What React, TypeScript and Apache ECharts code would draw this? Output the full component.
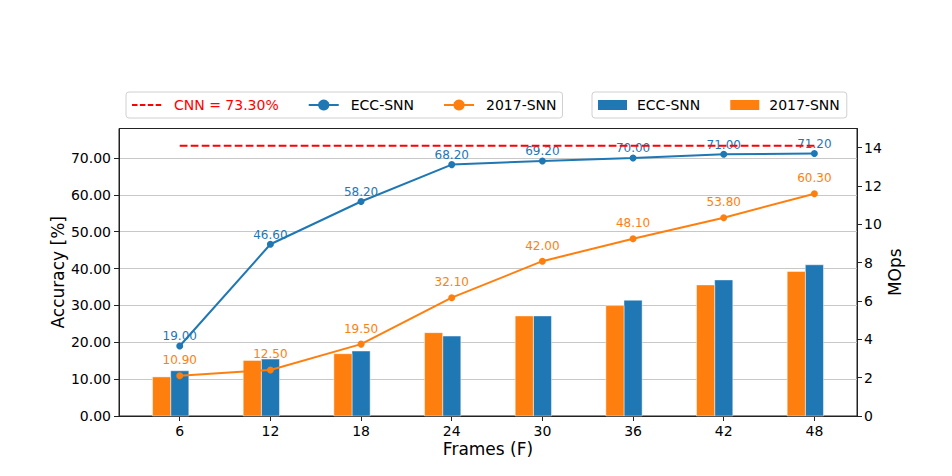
import React, { useEffect, useRef } from 'react';
import * as echarts from 'echarts';

const frames = [6, 12, 18, 24, 30, 36, 42, 48];
const eccAcc = [19.0, 46.6, 58.2, 68.2, 69.2, 70.0, 71.0, 71.2];
const snn2017Acc = [10.9, 12.5, 19.5, 32.1, 42.0, 48.1, 53.8, 60.3];
const eccMops = [2.36, 2.97, 3.39, 4.17, 5.22, 6.04, 7.1, 7.89];
const snn2017Mops = [2.04, 2.9, 3.25, 4.35, 5.22, 5.76, 6.84, 7.54];
const cnnAcc = 73.3;
const accTicks = [0, 10, 20, 30, 40, 50, 60, 70];
const mopsTicks = [0, 2, 4, 6, 8, 10, 12, 14];

const BLUE = '#1f77b4';
const ORANGE = '#ff7f0e';
const FONT = 'DejaVu Sans';
const BAR_W = 1.2;

export default function App() {
  const ref = useRef<HTMLDivElement>(null);
  useEffect(() => {
    document.body.style.margin = '0';
    const chart = echarts.init(ref.current!, null, { renderer: 'svg' });
    const xMinData = frames[0] - 1.5 * BAR_W;
    const xMaxData = frames[frames.length - 1] + 0.5 * BAR_W;
    const pad = 0.05 * (xMaxData - xMinData);
    const cnnName = `CNN = ${cnnAcc.toFixed(2)}%`;

    const barSeries = (name: string, vals: number[], color: string, off0: number, off1: number) => ({
      type: 'custom',
      name,
      xAxisIndex: 0,
      yAxisIndex: 1,
      z: 1,
      itemStyle: { color },
      encode: { x: 0, y: 1 },
      data: frames.map((f, i) => [f, vals[i]]),
      renderItem: (params: any, api: any) => {
        const x = api.value(0);
        const y = api.value(1);
        const p0 = api.coord([x + off0, y]);
        const p1 = api.coord([x + off1, 0]);
        return {
          type: 'rect',
          shape: { x: p0[0], y: p0[1], width: p1[0] - p0[0], height: p1[1] - p0[1] },
          style: { fill: color, stroke: 'rgba(255,255,255,0.45)', lineWidth: 1 },
        };
      },
    });

    const lineSeries = (name: string, vals: number[], color: string, dist: number) => ({
      type: 'line',
      name,
      xAxisIndex: 0,
      yAxisIndex: 0,
      z: 3,
      data: frames.map((f, i) => [f, vals[i]]),
      symbol: 'circle',
      symbolSize: 7,
      itemStyle: { color },
      lineStyle: { color, width: 2 },
      label: {
        show: true,
        position: 'top',
        distance: dist,
        color,
        fontFamily: FONT,
        fontSize: 12,
        formatter: (p: any) => p.value[1].toFixed(2),
      },
    });

    chart.setOption({
      animation: false,
      textStyle: { fontFamily: FONT },
      grid: { left: 119, right: 95, top: 128.5, bottom: 60, show: true, borderColor: '#222', borderWidth: 1, backgroundColor: 'transparent' },
      legend: [
        {
          left: 126,
          top: 92,
          orient: 'horizontal',
          padding: [6, 6, 6, 5],
          itemGap: 29,
          itemWidth: 30,
          itemHeight: 14,
          borderColor: '#d0d0d0',
          borderWidth: 1,
          borderRadius: 3,
          selectedMode: false,
          textStyle: { fontFamily: FONT, fontSize: 14, color: '#000', padding: [0, 0, 0, 7], lineHeight: 14 },
          data: [
            {
              name: cnnName,
              textStyle: { color: '#ff0000' },
              itemStyle: { opacity: 0 },
              lineStyle: { type: [5.5, 2.4], width: 2, color: '#ff0000' },
            },
            'ECC-SNN',
            '2017-SNN',
          ],
        },
        {
          left: 592,
          top: 92,
          orient: 'horizontal',
          padding: [6, 7, 6, 6],
          itemGap: 30,
          itemWidth: 29,
          itemHeight: 10,
          icon: 'rect',
          borderColor: '#d0d0d0',
          borderWidth: 1,
          borderRadius: 3,
          selectedMode: false,
          textStyle: { fontFamily: FONT, fontSize: 14, color: '#000', padding: [0, 0, 0, 5], lineHeight: 14 },
          formatter: (name: string) => name.replace(' MOps', ''),
          data: ['ECC-SNN MOps', '2017-SNN MOps'],
        },
      ],
      xAxis: {
        type: 'value',
        min: xMinData - pad,
        max: xMaxData + pad,
        name: 'Frames (F)',
        nameLocation: 'middle',
        nameGap: 24,
        nameMoveOverlap: false,
        nameTextStyle: { fontFamily: FONT, fontSize: 17, color: '#000' },
        axisLine: { show: true, lineStyle: { color: '#222', width: 1 } },
        axisTick: { show: true, length: 5, lineStyle: { color: '#222', width: 1 }, customValues: frames },
        axisLabel: { customValues: frames, fontFamily: FONT, fontSize: 14, color: '#000', margin: 8 },
        splitLine: { show: false },
      },
      yAxis: [
        {
          type: 'value',
          min: 0,
          max: 78,
          position: 'left',
          name: 'Accuracy [%]',
          nameLocation: 'middle',
          nameGap: 53,
          nameMoveOverlap: false,
          nameTextStyle: { fontFamily: FONT, fontSize: 17, color: '#000' },
          axisLine: { show: true, lineStyle: { color: '#222', width: 1 } },
          axisTick: { show: true, length: 5, lineStyle: { color: '#222', width: 1 }, customValues: accTicks },
          axisLabel: {
            customValues: accTicks,
            fontFamily: FONT,
            fontSize: 14,
            color: '#000',
            margin: 8,
            formatter: (v: number) => v.toFixed(2),
          },
          splitLine: { show: true, lineStyle: { color: '#c8c8c8', width: 1.2 } },
        },
        {
          type: 'value',
          min: 0,
          max: 15,
          position: 'right',
          name: 'MOps',
          nameLocation: 'middle',
          nameGap: 29,
          nameMoveOverlap: false,
          nameTextStyle: { fontFamily: FONT, fontSize: 17, color: '#000' },
          axisLine: { show: true, lineStyle: { color: '#222', width: 1 } },
          axisTick: { show: true, length: 5, lineStyle: { color: '#222', width: 1 }, customValues: mopsTicks },
          axisLabel: { customValues: mopsTicks, fontFamily: FONT, fontSize: 14, color: '#000', margin: 7 },
          splitLine: { show: false },
        },
      ],
      series: [
        barSeries('ECC-SNN MOps', eccMops, BLUE, -0.5 * BAR_W, 0.5 * BAR_W),
        barSeries('2017-SNN MOps', snn2017Mops, ORANGE, -1.5 * BAR_W, -0.5 * BAR_W),
        lineSeries('ECC-SNN', eccAcc, BLUE, 0),
        lineSeries('2017-SNN', snn2017Acc, ORANGE, 6),
        {
          type: 'line',
          name: cnnName,
          xAxisIndex: 0,
          yAxisIndex: 0,
          z: 4,
          symbol: 'none',
          data: [
            [frames[0], cnnAcc],
            [frames[frames.length - 1], cnnAcc],
          ],
          itemStyle: { color: '#ff0000' },
          lineStyle: { color: '#ff0000', width: 2, type: [7.7, 3.3] },
        },
      ],
    });
    return () => chart.dispose();
  }, []);
  return <div ref={ref} style={{ width: 952, height: 476 }} />;
}
